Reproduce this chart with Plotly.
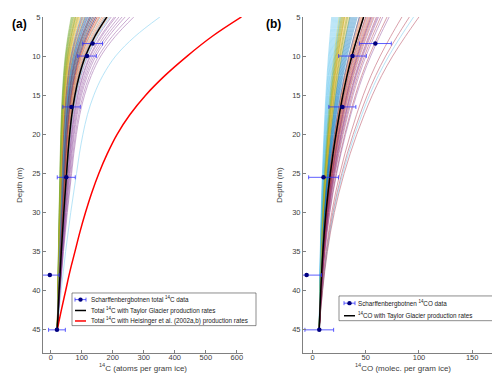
import plotly.graph_objects as go

DEPTHS = [5, 7.5, 10, 12.5, 15, 17.5, 20, 22.5, 25, 27.5, 30, 32.5, 35, 37.5, 40, 42.5, 45]

# panel (a): total 14C
TAYLOR_14C = [181, 142, 112, 92, 78, 68, 61, 55.5, 51, 46.5, 42, 38, 34, 30.5, 27, 24, 21]
HEISINGER_14C = [615, 520, 440, 368, 306, 255, 214, 182, 155, 132, 112, 94, 78, 62, 48, 34, 21]

# Monte Carlo runs, value read at 5 m (they all meet the black curve at 45 m)
ENSEMBLE_TOP_14C = [
    120, 150, 95, 230, 72, 352, 140,
    105, 175, 85, 255, 78, 160, 118,
    135, 165, 100, 210, 68, 145, 128,
    110, 158, 90, 268, 82, 130, 150,
    125, 140, 76, 195, 70, 175, 112,
    98, 185, 108, 240, 88, 122, 135,
    145, 130, 80, 220, 74, 190, 102,
    115, 170, 92, 180, 66, 138, 125,
    130, 155, 86, 205, 80, 115, 145,
]

DATA_DEPTH_14C = [8.4, 10, 16.5, 25.5, 38, 45]
DATA_14C = [135, 117, 67, 50, -3, 20]
DATA_14C_ERR = [32, 30, 28, 29, 30, 27]

# panel (b): 14CO
TAYLOR_14CO = [48, 42.3, 37, 32.4, 28.5, 25.1, 22, 19.2, 16.7, 14.5, 12.6, 11, 9.7, 8.6, 7.7, 6.9, 6.3]

ENSEMBLE_TOP_14CO = [
    35, 50, 28, 58, 32, 22, 70,
    40, 45, 30, 62, 26, 18, 84,
    38, 55, 33, 52, 29, 24, 91,
    42, 48, 27, 66, 35, 20, 44,
    36, 53, 31, 56, 25, 95, 60,
    44, 47, 34, 72, 30, 23, 100,
    39, 57, 29, 50, 27, 21, 64,
    41, 46, 32, 61, 33, 26, 54,
    37, 51, 30, 55, 28, 19, 48,
]

DATA_DEPTH_14CO = [8.4, 10, 16.5, 25.5, 38, 45]
DATA_14CO = [59, 37.5, 28, 10.3, -5.6, 6.3]
DATA_14CO_ERR = [15, 13, 12.7, 14, 14, 13.5]

LEGEND_14C = ['Scharffenbergbotnen total <sup>14</sup>C data',
              'Total <sup>14</sup>C with Taylor Glacier production rates',
              'Total <sup>14</sup>C with Heisinger et al. (2002a,b) production rates']
LEGEND_14CO = ['Scharffenbergbotnen <sup>14</sup>CO data',
               '<sup>14</sup>CO with Taylor Glacier production rates']

MATLAB_COLORS = ['#0072BD', '#D95319', '#EDB120', '#7E2F8E',
                 '#77AC30', '#4DBEEE', '#A2142F']

FONT = 'Liberation Sans, Arial, sans-serif'
W, H = 500, 376
ERR_COLOR = 'rgba(40,40,255,0.75)'
MARKER_COLOR = '#00007F'


def px(x):
    return x / W


def py(y):
    return 1 - y / H


def ensemble_traces(tops, ref, xaxis, yaxis):
    # each run is drawn as the reference profile stretched to its own 5 m value
    bottom = ref[-1]
    shape = [(v - bottom) / (ref[0] - bottom) for v in ref]
    traces = []
    for i, top in enumerate(tops):
        xs = [bottom + (top - bottom) * s for s in shape]
        traces.append(go.Scatter(
            x=xs, y=DEPTHS, mode='lines', xaxis=xaxis, yaxis=yaxis,
            line=dict(color=MATLAB_COLORS[i % 7], width=0.8, shape='spline'),
            opacity=0.5, showlegend=False, hoverinfo='skip'))
    return traces


def data_trace(x, y, err, xaxis, yaxis):
    return go.Scatter(
        x=x, y=y, mode='markers', xaxis=xaxis, yaxis=yaxis, showlegend=False,
        marker=dict(color=MARKER_COLOR, size=4.5),
        error_x=dict(type='data', array=err, color=ERR_COLOR,
                     thickness=1, width=2))


def legend_box(x0, x1, y0, y1, rows, labels, sym_x0, sym_x1, text_x, styles):
    # MATLAB-style legend drawn with shapes and annotations (pixel positions)
    shapes = [dict(type='rect', xref='paper', yref='paper', layer='above',
                   x0=px(x0), x1=px(x1), y0=py(y1), y1=py(y0),
                   fillcolor='white', line=dict(color='#404040', width=0.6))]
    annos = []
    for y, label, style in zip(rows, labels, styles):
        if style == 'data':
            shapes.append(dict(type='line', xref='paper', yref='paper', layer='above',
                               x0=px(sym_x0), x1=px(sym_x1), y0=py(y), y1=py(y),
                               line=dict(color=ERR_COLOR, width=1)))
            for xc in (sym_x0, sym_x1):
                shapes.append(dict(type='line', xref='paper', yref='paper', layer='above',
                                   x0=px(xc), x1=px(xc), y0=py(y - 2), y1=py(y + 2),
                                   line=dict(color=ERR_COLOR, width=1)))
            xm = (sym_x0 + sym_x1) / 2
            shapes.append(dict(type='circle', xref='paper', yref='paper', layer='above',
                               x0=px(xm - 2.2), x1=px(xm + 2.2),
                               y0=py(y + 2.2), y1=py(y - 2.2),
                               fillcolor=MARKER_COLOR, line=dict(width=0)))
        else:
            shapes.append(dict(type='line', xref='paper', yref='paper', layer='above',
                               x0=px(sym_x0), x1=px(sym_x1), y0=py(y), y1=py(y),
                               line=dict(color=style, width=1.5)))
        annos.append(dict(text=label, x=px(text_x), y=py(y), xref='paper', yref='paper',
                          xanchor='left', yanchor='middle', showarrow=False,
                          borderpad=0,
                          font=dict(size=6.3, color='#202020', family=FONT)))
    return shapes, annos


fig = go.Figure()

for t in ensemble_traces(ENSEMBLE_TOP_14C, TAYLOR_14C, 'x', 'y'):
    fig.add_trace(t)
for t in ensemble_traces(ENSEMBLE_TOP_14CO, TAYLOR_14CO, 'x2', 'y2'):
    fig.add_trace(t)

fig.add_trace(go.Scatter(
    x=HEISINGER_14C, y=DEPTHS, mode='lines', xaxis='x', yaxis='y',
    line=dict(color='#FF0000', width=1.5, shape='spline'), showlegend=False))
fig.add_trace(go.Scatter(
    x=TAYLOR_14C, y=DEPTHS, mode='lines', xaxis='x', yaxis='y',
    line=dict(color='#000000', width=1.5, shape='spline'), showlegend=False))
fig.add_trace(go.Scatter(
    x=TAYLOR_14CO, y=DEPTHS, mode='lines', xaxis='x2', yaxis='y2',
    line=dict(color='#000000', width=1.5, shape='spline'), showlegend=False))

fig.add_trace(data_trace(DATA_14C, DATA_DEPTH_14C, DATA_14C_ERR, 'x', 'y'))
fig.add_trace(data_trace(DATA_14CO, DATA_DEPTH_14CO, DATA_14CO_ERR, 'x2', 'y2'))

axis_style = dict(showline=True, linecolor='#808080', linewidth=1,
                  ticks='inside', ticklen=3, tickcolor='#808080',
                  showgrid=False, zeroline=False, mirror=False,
                  tickfont=dict(size=7.5, color='#404040', family=FONT),
                  title_font=dict(size=8, color='#404040', family=FONT))

shapes_a, annos_a = legend_box(64, 248, 284, 317, [290.7, 301.7, 312.3], LEGEND_14C,
                               67, 78, 82, ['data', '#000000', '#FF0000'])
shapes_b, annos_b = legend_box(331, 488, 287, 312, [294.3, 307], LEGEND_14CO,
                               336, 347, 349, ['data', '#000000'])

panel_labels = [
    dict(text='<b>(a)</b>', x=px(2), y=py(12), xref='paper', yref='paper',
         xanchor='left', yanchor='middle', showarrow=False,
         font=dict(size=12, color='black', family=FONT)),
    dict(text='<b>(b)</b>', x=px(256), y=py(12), xref='paper', yref='paper',
         xanchor='left', yanchor='middle', showarrow=False,
         font=dict(size=12, color='black', family=FONT)),
]

fig.update_layout(
    width=W, height=H,
    margin=dict(l=0, r=0, t=0, b=0),
    paper_bgcolor='white', plot_bgcolor='white',
    font=dict(family=FONT),
    showlegend=False,
    xaxis=dict(domain=[px(35), px(235)], range=[-25, 620], dtick=100,
               title=dict(text='<sup>14</sup>C (atoms per gram ice)', standoff=0),
               ticklabelstandoff=-3, anchor='y', **axis_style),
    yaxis=dict(domain=[py(345), py(5)], range=[48, 5], dtick=5,
               title=dict(text='Depth (m)', standoff=8), anchor='x', **axis_style),
    xaxis2=dict(domain=[px(295), px(495)], range=[-9, 179], dtick=50,
                title=dict(text='<sup>14</sup>CO (molec. per gram ice)', standoff=0),
                ticklabelstandoff=-3, anchor='y2', **axis_style),
    yaxis2=dict(domain=[py(345), py(5)], range=[48, 5], dtick=5,
                title=dict(text='Depth (m)', standoff=8), anchor='x2', **axis_style),
    shapes=shapes_a + shapes_b,
    annotations=panel_labels + annos_a + annos_b,
)

fig.write_html('out.html')
